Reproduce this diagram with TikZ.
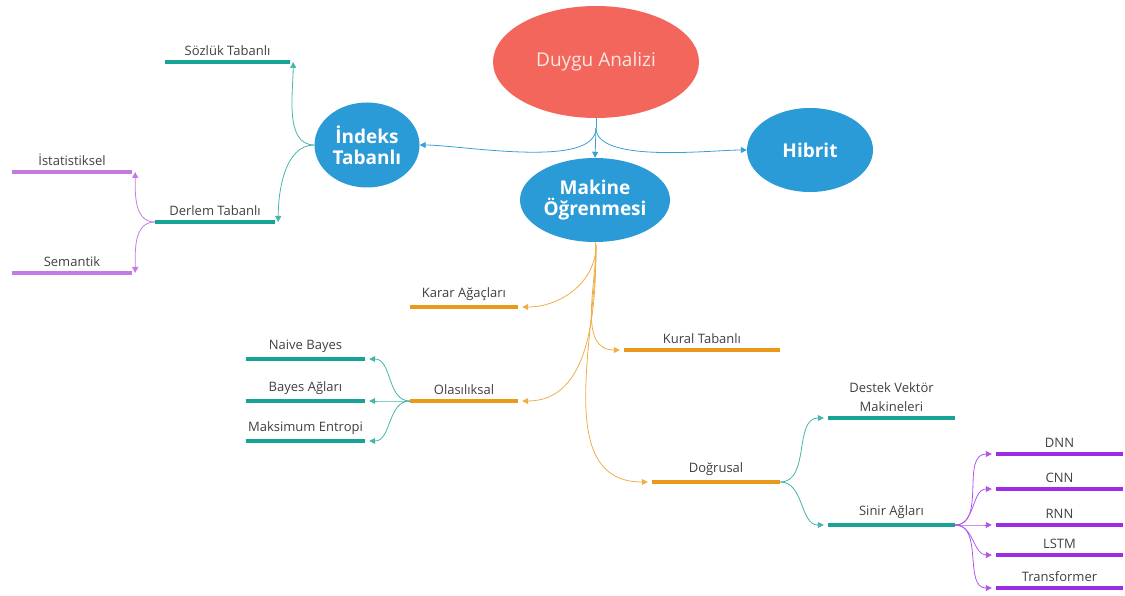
\documentclass[tikz,border=0pt]{standalone}
\usepackage{fontspec}
\setmainfont{Open Sans}
\usetikzlibrary{shapes.geometric,arrows.meta}
\definecolor{dred}{HTML}{F2665C}
\definecolor{dblue}{HTML}{2A9BD7}
\definecolor{lblue}{HTML}{3B9FD6}
\definecolor{dorange}{HTML}{E99A1A}
\definecolor{dteal}{HTML}{18A396}
\definecolor{dpurple}{HTML}{9D2BE8}
\definecolor{lpurple}{HTML}{C47AE6}
\definecolor{txt}{HTML}{404040}
\definecolor{pinktxt}{HTML}{FCE6E3}
\begin{document}
\begin{tikzpicture}[x=1pt,y=1pt,
  mainell/.style={ellipse,fill=dblue,text=white,font=\fontsize{19}{21}\selectfont\bfseries,align=center,inner sep=0pt},
  bar/.style={rectangle,inner sep=0pt,minimum height=4.5pt},
  lbl/.style={text=txt,font=\fontsize{13}{19}\selectfont,align=center,inner sep=1pt},
  tealbar/.style={bar,fill=dteal},
  orbar/.style={bar,fill=dorange},
  pubar/.style={bar,fill=dpurple},
  lpbar/.style={bar,fill=lpurple},
  label distance=3pt,
  conn/.style={line width=0.8pt,-{Triangle[width=6pt,length=6pt]}},
  bconn/.style={conn,draw=lblue},
  oconn/.style={conn,draw=dorange!80},
  tconn/.style={conn,draw=dteal!80},
  pconn/.style={conn,draw=dpurple!80},
  lpconn/.style={conn,draw=lpurple},
]
\useasboundingbox (0,0) rectangle (1125,595);
% main nodes
\node[ellipse,fill=dred,text=pinktxt,font=\fontsize{19}{21}\selectfont,minimum width=206pt,minimum height=112pt] (duygu) at (596,533) {Duygu Analizi};
\node[mainell,minimum width=105pt,minimum height=85pt] (indeks) at (367,450) {İndeks\\Tabanlı};
\node[mainell,minimum width=126pt,minimum height=84pt] (hibrit) at (810,445) {Hibrit};
\node[mainell,minimum width=150pt,minimum height=84pt] (makine) at (595,395) {Makine\\Öğrenmesi};
\coordinate (dbot) at (596,467);
\coordinate (mbot) at (596,350);

% bars
\node[tealbar,minimum width=125pt,label={[lbl]above:Sözlük Tabanlı}] (sozluk) at (227.5,533) {};
\node[tealbar,minimum width=120pt,label={[lbl]above:Derlem Tabanlı}] (derlem) at (215,373) {};
\node[lpbar,minimum width=120pt,label={[lbl]above:İstatistiksel}] (istat) at (72,423) {};
\node[lpbar,minimum width=120pt,label={[lbl]above:Semantik}] (semantik) at (72,322) {};

\node[orbar,minimum width=108pt,label={[lbl]above:Karar Ağaçları}] (karar) at (464,288) {};
\node[orbar,minimum width=156pt,label={[lbl]above:Kural Tabanlı}] (kural) at (702,245) {};
\node[orbar,minimum width=108pt,label={[lbl]above:Olasılıksal}] (olasi) at (464,194) {};
\node[orbar,minimum width=128pt,label={[lbl]above:Doğrusal}] (dogrusal) at (716,113) {};

\node[tealbar,minimum width=119pt,label={[lbl]above:Naive Bayes}] (naive) at (305.5,236) {};
\node[tealbar,minimum width=119pt,label={[lbl]above:Bayes Ağları}] (bayesag) at (305.5,194) {};
\node[tealbar,minimum width=119pt,label={[lbl]above:Maksimum Entropi}] (maks) at (305.5,154) {};

\node[tealbar,minimum width=127pt,label={[lbl]above:Destek Vektör\\Makineleri}] (destek) at (891.5,177) {};
\node[tealbar,minimum width=127pt,label={[lbl]above:Sinir Ağları}] (sinir) at (891.5,70) {};

\node[pubar,minimum width=127pt,label={[lbl]above:DNN}] (dnn) at (1059.5,141) {};
\node[pubar,minimum width=127pt,label={[lbl]above:CNN}] (cnn) at (1059.5,106) {};
\node[pubar,minimum width=127pt,label={[lbl]above:RNN}] (rnn) at (1059.5,70) {};
\node[pubar,minimum width=127pt,label={[lbl]above:LSTM}] (lstm) at (1059.5,40) {};
\node[pubar,minimum width=127pt,label={[lbl]above:Transformer}] (trans) at (1059.5,7) {};

% connectors
\draw[line width=0.8pt,lblue] (duygu.south) -- (dbot);
\draw[bconn] (dbot) to[out=-90,in=0,looseness=0.6] (indeks.east);
\draw[bconn] (dbot) -- (makine.north);
\draw[bconn] (dbot) to[out=-90,in=180,looseness=0.6] (hibrit.west);

\draw[tconn] (indeks.west) to[out=180,in=-90,looseness=0.9] ([xshift=3pt]sozluk.east);
\draw[tconn] (indeks.west) to[out=180,in=90,looseness=0.9] ([xshift=3pt]derlem.east);
\draw[lpconn] (derlem.west) to[out=180,in=-90] ([xshift=3pt]istat.east);
\draw[lpconn] (derlem.west) to[out=180,in=90] ([xshift=3pt]semantik.east);

\draw[line width=0.8pt,dorange!80] (makine.south) -- (mbot);
\draw[oconn] (mbot) to[out=-90,in=0] ([xshift=4pt]karar.east);
\draw[oconn] (mbot) to[out=-90,in=180] ([xshift=-4pt]kural.west);
\draw[oconn] (mbot) to[out=-90,in=0] ([xshift=4pt]olasi.east);
\draw[oconn] (mbot) to[out=-90,in=180] ([xshift=-4pt]dogrusal.west);

\draw[tconn] (olasi.west) to[out=180,in=0] ([xshift=4pt]naive.east);
\draw[tconn] (olasi.west) to[out=180,in=0] ([xshift=4pt]bayesag.east);
\draw[tconn] (olasi.west) to[out=180,in=0] ([xshift=4pt]maks.east);

\draw[tconn] (dogrusal.east) to[out=0,in=180] ([xshift=-4pt]destek.west);
\draw[tconn] (dogrusal.east) to[out=0,in=180] ([xshift=-4pt]sinir.west);

\draw[pconn] (sinir.east) to[out=0,in=180] ([xshift=-4pt]dnn.west);
\draw[pconn] (sinir.east) to[out=0,in=180] ([xshift=-4pt]cnn.west);
\draw[pconn] (sinir.east) to[out=0,in=180] ([xshift=-4pt]rnn.west);
\draw[pconn] (sinir.east) to[out=0,in=180] ([xshift=-4pt]lstm.west);
\draw[pconn] (sinir.east) to[out=0,in=180] ([xshift=-4pt]trans.west);
\end{tikzpicture}
\end{document}
